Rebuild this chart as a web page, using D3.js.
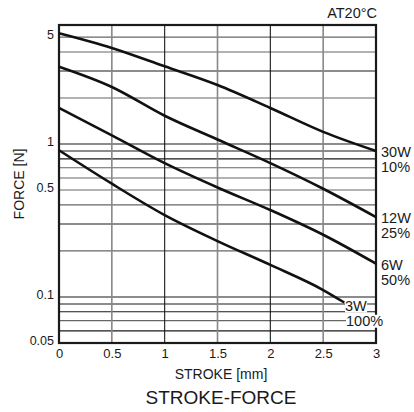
<!DOCTYPE html>
<html>
<head>
<meta charset="utf-8">
<script src="https://cdn.jsdelivr.net/npm/d3@7"></script>
<style>
  body { margin: 0; background: #fff; }
  text { font-family: "Liberation Sans", Arial, sans-serif; fill: #1a1a1a; }
</style>
</head>
<body>
<svg width="414" height="412"></svg>
<script>
// stroke positions (mm)
var strokes = [0, 0.5, 1, 1.5, 2, 2.5, 3];
// force values (N) per curve
var force30W = [5.3, 4.25, 3.22, 2.43, 1.72, 1.2, 0.9];
var force12W = [3.2, 2.36, 1.53, 1.07, 0.75, 0.51, 0.333];
var force6W  = [1.72, 1.14, 0.75, 0.52, 0.37, 0.255, 0.165];
var strokes3W = [0, 0.5, 1, 1.5, 2, 2.5, 2.7];
var force3W  = [0.91, 0.55, 0.343, 0.232, 0.162, 0.111, 0.092];

var xTicks = [0, 0.5, 1, 1.5, 2, 2.5, 3];
var yTicks = [0.05, 0.1, 0.5, 1, 5];
var yGrid = [0.06, 0.07, 0.08, 0.09, 0.1, 0.2, 0.3, 0.4, 0.5, 0.6, 0.7, 0.8, 0.9, 1, 2, 3, 4, 5];
var yGridGrey = [0.07, 0.2, 0.4, 0.5, 0.6, 0.7, 2, 4, 5];

var svg = d3.select("svg");
var pL = 59, pR = 376, pT = 25, pB = 343;

var x = d3.scaleLinear().domain([0, 3]).range([pL, pR]);
var y = d3.scaleLog().domain([0.05, 6]).range([pB, pT]);

// horizontal grid
svg.selectAll("line.hg")
    .data(yGrid)
  .enter().append("line")
    .attr("class", "hg")
    .attr("x1", pL).attr("x2", pR)
    .attr("y1", function(d) { return y(d); })
    .attr("y2", function(d) { return y(d); })
    .style("stroke", function(d) { return yGridGrey.indexOf(d) >= 0 ? "#666" : "#1a1a1a"; })
    .style("stroke-width", 1.1);

// vertical grid
svg.selectAll("line.vg")
    .data(xTicks.slice(1, -1))
  .enter().append("line")
    .attr("class", "vg")
    .attr("y1", pT).attr("y2", pB)
    .attr("x1", function(d) { return x(d); })
    .attr("x2", function(d) { return x(d); })
    .style("stroke", function(d) { return d % 1 === 0 ? "#1a1a1a" : "#888"; })
    .style("stroke-width", function(d) { return d % 1 === 0 ? 1.1 : 1.6; });

// frame
svg.append("rect")
    .attr("x", pL).attr("y", pT)
    .attr("width", pR - pL).attr("height", pB - pT)
    .style("fill", "none")
    .style("stroke", "#1a1a1a")
    .style("stroke-width", 2.2);

// axes (labels only)
var xAxis = svg.append("g")
    .attr("transform", "translate(0," + pB + ")")
    .call(d3.axisBottom(x).tickValues(xTicks).tickSize(0).tickPadding(6).tickFormat(d3.format("")));
var yAxis = svg.append("g")
    .attr("transform", "translate(" + pL + ",0)")
    .call(d3.axisLeft(y).tickValues(yTicks).tickSize(0).tickPadding(5).tickFormat(d3.format("")));
[xAxis, yAxis].forEach(function(g) {
  g.select(".domain").remove();
  g.selectAll("text")
    .style("font-family", '"Liberation Sans", Arial, sans-serif').style("fill", "#1a1a1a");
});
xAxis.selectAll("text").style("font-size", "13px");
yAxis.selectAll("text").style("font-size", "12.5px").attr("dy", "0.1em");

// curves
var line = d3.line()
    .x(function(d) { return x(d[0]); })
    .y(function(d) { return y(d[1]); })
    .curve(d3.curveMonotoneX);

var curves = [
  d3.zip(strokes, force30W),
  d3.zip(strokes, force12W),
  d3.zip(strokes, force6W),
  d3.zip(strokes3W, force3W)
];
svg.selectAll("path.curve")
    .data(curves)
  .enter().append("path")
    .attr("class", "curve")
    .attr("d", line)
    .style("fill", "none")
    .style("stroke", "#111")
    .style("stroke-width", 2.6);

// curve labels
function label(txt, px, py, bg) {
  var t = svg.append("text").attr("x", px).attr("y", py)
      .attr("dy", "0.35em").style("font-size", "14.5px").text(txt);
  if (bg) {
    var b = t.node().getBBox();
    svg.insert("rect", function() { return t.node(); })
        .attr("x", b.x).attr("y", b.y + 2).attr("width", b.width).attr("height", b.height - 3)
        .style("fill", "#fff");
  }
}
label("30W", 381, y(0.9) + 1, false);
label("10%", 381, y(0.9) + 16, false);
label("12W", 381, y(0.333) + 1, false);
label("25%", 381, y(0.333) + 16, false);
label("6W", 381, y(0.165) + 1, false);
label("50%", 381, y(0.165) + 16, false);
label("3W", 345, y(0.092) + 3, true);
label("100%", 346, y(0.07), true);

// titles
svg.append("text").attr("x", 377).attr("y", 18).attr("text-anchor", "end")
    .style("font-size", "14.5px").text("AT20°C");
svg.append("text").attr("x", 221).attr("y", 379).attr("text-anchor", "middle")
    .style("font-size", "14px").text("STROKE [mm]");
svg.append("text").attr("x", 221).attr("y", 404).attr("text-anchor", "middle")
    .style("font-size", "19px").text("STROKE-FORCE");
svg.append("text").attr("transform", "translate(24,184) rotate(-90)")
    .attr("text-anchor", "middle").style("font-size", "14px").text("FORCE [N]");
</script>
</body>
</html>
